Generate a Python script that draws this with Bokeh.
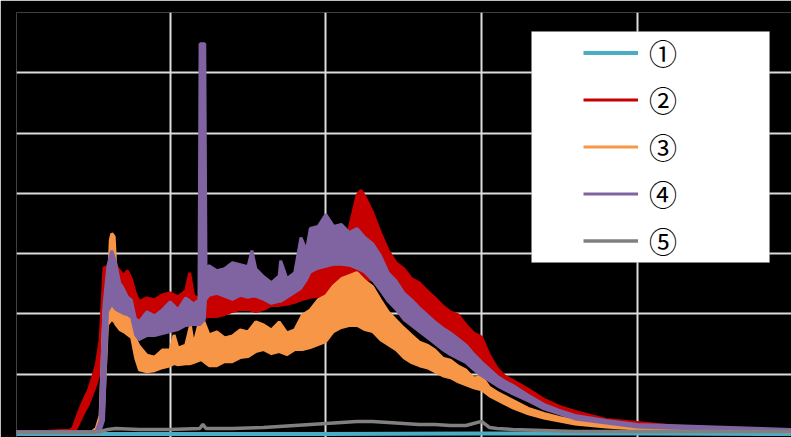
from bokeh.plotting import figure
from bokeh.models import (Range1d, Grid, FixedTicker, Legend, LegendItem,
                          BoxAnnotation, ColumnDataSource)
from bokeh.embed import file_html
from bokeh.resources import INLINE

# ---------------- data ----------------
labels = ["①", "②", "③", "④", "⑤"]
colors = ["#4BACC6", "#C80000", "#F79646", "#8064A2", "#808080"]

x_grid_ticks = [10, 20, 30, 40]
y_grid_ticks = [60, 120, 180, 240, 300, 360]

# ① (cyan) - flat near zero
x_s1 = [0, 10, 20, 30, 40, 50]
y_s1 = [0.5, 0.5, 0.5, 1, 1, 0.5]

# ② (red) - envelope of the noisy trace
x_s2 = [0, 2, 3, 3.5, 3.75, 4, 4.25, 4.5, 4.75, 5, 5.25, 5.5, 5.75, 6, 6.25, 6.5,
        6.75, 7, 7.25, 7.5, 7.75, 8, 8.5, 9, 9.5, 10, 10.5, 11, 11.25, 11.5, 12,
        12.5, 13, 13.5, 14, 14.5, 15, 15.5, 16, 16.5, 17, 17.5, 18, 18.5, 19,
        19.5, 20, 20.5, 21, 21.5, 22, 22.25, 22.5, 23, 23.5, 24, 24.5, 25, 25.5,
        26, 26.5, 27, 27.5, 28, 28.5, 29, 29.5, 30, 30.5, 31, 31.5, 32, 33, 34,
        35, 36, 38, 40, 42, 44, 46, 48, 50]
s2_hi = [3, 3, 4, 4, 6, 17, 27, 36, 44, 56, 69, 94, 166, 167, 171, 168,
         163, 158, 163, 155, 141, 132, 136, 134, 139, 141, 137, 143, 161, 138, 134,
         139, 143, 137, 134, 140, 137, 136, 132, 138, 136, 146, 151, 161, 169,
         171, 167, 171, 171, 205, 238, 243, 237, 221, 201, 183, 171, 165, 155,
         151, 143, 136, 128, 122, 119, 109, 101, 97, 79, 66, 58, 54, 45, 35,
         28, 23, 15, 12, 9, 7, 6, 5, 5]
s2_lo = [2, 2, 2, 2, 2, 6, 14, 22, 29, 39, 49, 62, 114, 134, 134, 134,
         134, 132, 132, 129, 119, 114, 114, 114, 116, 116, 116, 119, 122, 119, 116,
         117, 117, 119, 122, 124, 124, 122, 124, 128, 128, 129, 131, 134, 136,
         137, 137, 141, 143, 148, 153, 155, 155, 153, 148, 143, 138, 134, 129,
         124, 119, 112, 106, 99, 94, 87, 82, 72, 64, 56, 49, 44, 37, 29,
         23, 18, 11, 8, 5, 4, 3, 3, 3]

# ③ (orange)
x_s3 = [0, 5, 5.25, 5.5, 5.75, 6, 6.15, 6.25, 6.4, 6.5, 6.75, 7, 7.25, 7.5, 7.75,
        8, 8.5, 9, 9.5, 10, 10.25, 10.5, 11, 11.3, 11.5, 12, 12.5, 13, 13.5, 14,
        14.5, 15, 15.5, 16, 16.5, 17, 17.5, 18, 18.5, 19, 19.5, 20, 20.5, 21,
        21.5, 22, 22.5, 23, 23.5, 24, 24.5, 25, 25.5, 26, 26.5, 27, 27.5, 28,
        28.5, 29, 29.5, 30, 30.5, 31, 31.5, 32, 33, 34, 35, 36, 38, 40, 42, 44,
        46, 48, 50]
s3_hi = [3, 3, 6, 19, 124, 132, 193, 200, 197, 168, 134, 122, 119, 116, 96,
         88, 79, 77, 84, 84, 99, 86, 89, 108, 89, 119, 99, 102, 96, 98,
         104, 102, 112, 109, 104, 112, 101, 104, 119, 124, 134, 138, 148, 155,
         158, 161, 153, 147, 134, 122, 114, 106, 99, 92, 89, 84, 76, 74,
         68, 64, 56, 58, 47, 42, 38, 34, 26, 21, 17, 14, 10, 8, 6, 5,
         5, 4, 4]
s3_lo = [2, 2, 2, 2, 24, 109, 112, 114, 112, 109, 104, 102, 99, 96, 76,
         64, 62, 63, 66, 68, 70, 69, 70, 70, 71, 74, 68, 68, 72, 72,
         76, 77, 82, 84, 80, 82, 79, 84, 84, 86, 89, 92, 102, 106,
         108, 108, 104, 102, 94, 89, 84, 76, 71, 68, 66, 62, 58, 56,
         52, 49, 46, 44, 38, 34, 30, 26, 20, 16, 13, 10, 7, 5, 4, 3,
         3, 3, 2]

# ④ (purple)
x_s4 = [0, 5.25, 5.5, 5.75, 6, 6.25, 6.5, 6.75, 7, 7.25, 7.5, 7.75, 8, 8.5, 9,
        9.5, 10, 10.5, 11, 11.5, 11.85, 11.92, 12.22, 12.3, 12.5, 13, 13.5, 14,
        14.5, 15, 15.25, 15.5, 16, 16.5, 17, 17.1, 17.5, 18, 18.4, 18.75, 19,
        19.5, 20, 20.5, 21, 21.5, 22, 22.5, 23, 23.5, 24, 24.5, 25, 25.5, 26,
        26.5, 27, 27.5, 28, 28.5, 29, 29.5, 30, 30.5, 31, 31.5, 32, 33, 34, 35,
        36, 38, 40, 42, 44, 46, 48, 50]
s4_hi = [3, 3, 14, 129, 168, 183, 171, 151, 145, 137, 134, 116, 112, 122, 118,
         124, 132, 124, 136, 130, 134, 389, 389, 165, 168, 163, 165, 171,
         169, 167, 183, 165, 157, 151, 158, 173, 155, 161, 196, 183, 205,
         207, 219, 207, 209, 201, 205, 196, 190, 178, 161, 153, 141, 134, 126,
         119, 112, 106, 101, 95, 89, 80, 72, 65, 58, 53, 49, 39, 30, 24,
         19, 14, 10, 9, 8, 7, 6, 5]
s4_lo = [2, 2, 2, 14, 122, 129, 124, 122, 120, 119, 116, 99, 94, 98, 98,
         100, 102, 104, 108, 109, 109, 109, 114, 134, 138, 140, 137, 134,
         138, 136, 137, 137, 134, 130, 132, 132, 136, 141, 145, 153, 161,
         165, 167, 169, 169, 168, 165, 161, 153, 143, 132, 124, 114, 108, 102,
         96, 90, 84, 79, 75, 71, 64, 58, 53, 48, 44, 40, 33, 25, 20,
         15, 11, 7, 6, 5, 4, 3, 3]

# ⑤ (gray)
x_s5 = [0, 3, 5, 5.5, 6, 6.5, 8, 10, 11.9, 12.1, 12.3, 14, 16, 17, 18, 19, 20,
        21, 22, 23, 24, 25, 26, 27, 28, 29, 30, 30.5, 31, 32, 34, 36, 40, 44, 50]
y_s5 = [2, 2, 2, 3, 5, 6, 5, 5, 6, 10, 6, 6, 7, 8, 9, 10, 11,
        12, 13, 13, 12, 11, 10, 10, 9, 9, 13, 7, 6, 5, 4, 3, 3, 3, 3]

# ---------------- figure ----------------
p = figure(width=791, height=437,
           x_range=Range1d(0.128, 49.91), y_range=Range1d(-3, 420),
           x_axis_type=None, y_axis_type=None,
           output_backend="svg", toolbar_location=None,
           min_border_left=16, min_border_right=0,
           min_border_top=12, min_border_bottom=0,
           background_fill_color="black", border_fill_color="black",
           outline_line_color=None)

grid_color = "#DCDCDC"
p.add_layout(Grid(dimension=0, ticker=FixedTicker(ticks=x_grid_ticks),
                  grid_line_color=grid_color, grid_line_width=2))
p.add_layout(Grid(dimension=1, ticker=FixedTicker(ticks=y_grid_ticks),
                  grid_line_color=grid_color, grid_line_width=2))

# plotting order as in the original: ① ② ③ ④ ⑤
r1 = p.line(x_s1, y_s1, line_color=colors[0], line_width=4)

band_renderers = []
for xs, lo, hi, c in [(x_s2, s2_lo, s2_hi, colors[1]),
                      (x_s3, s3_lo, s3_hi, colors[2]),
                      (x_s4, s4_lo, s4_hi, colors[3])]:
    src = ColumnDataSource(dict(x=xs, lo=lo, hi=hi))
    p.varea(x="x", y1="lo", y2="hi", source=src, fill_color=c)
    p.line("x", "lo", source=src, line_color=c, line_width=2)
    rh = p.line("x", "hi", source=src, line_color=c, line_width=3)
    band_renderers.append(rh)

r5 = p.line(x_s5, y_s5, line_color=colors[4], line_width=3.5)

renderers = [r1] + band_renderers + [r5]

# legend frame
p.add_layout(BoxAnnotation(left=33.21, right=48.50, top=401.1, bottom=171.2,
                           fill_color="white", fill_alpha=1.0,
                           line_color="#8C8C8C", line_width=1))

legend = Legend(items=[LegendItem(label=l, renderers=[r])
                       for l, r in zip(labels, renderers)],
                location=(567, 176), orientation="vertical",
                padding=0, margin=0, spacing=6,
                glyph_width=55, glyph_height=41, label_height=41,
                label_standoff=11,
                label_text_font="Noto Sans CJK JP",
                label_text_font_size="28px", label_text_color="black",
                background_fill_alpha=0, border_line_alpha=0)
p.add_layout(legend)

open("out.html", "w").write(file_html(p, INLINE))
